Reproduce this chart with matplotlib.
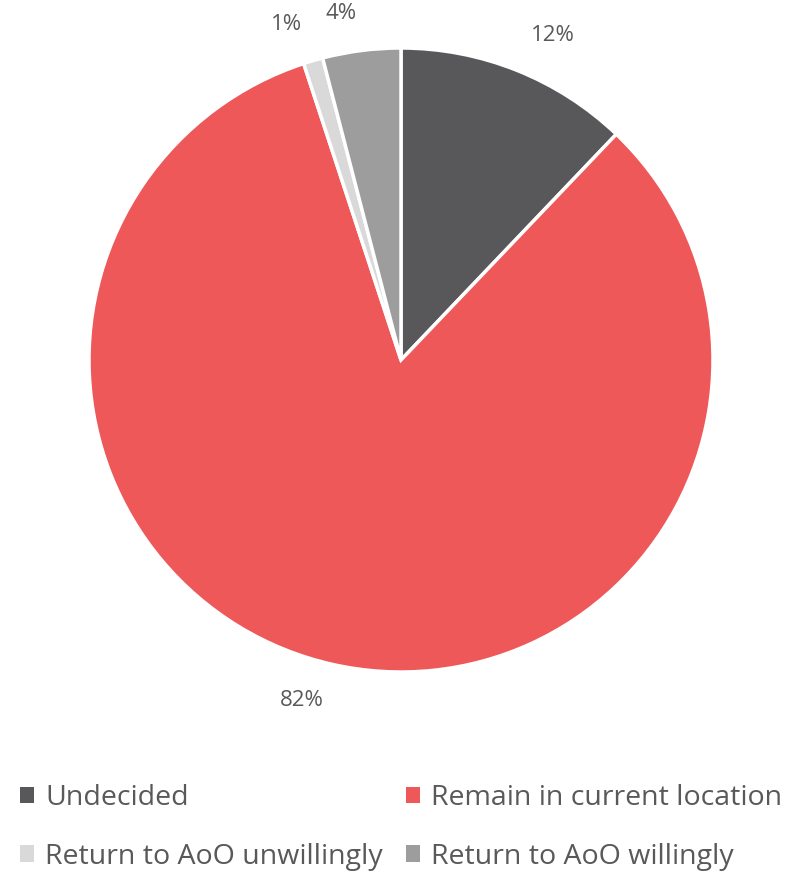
import matplotlib.pyplot as plt
from matplotlib.patches import Patch

plt.rcParams['font.family'] = ['Open Sans', 'DejaVu Sans']

categories = ['Undecided', 'Remain in current location',
              'Return to AoO unwillingly', 'Return to AoO willingly']
shares = [12, 82, 1, 4]
colors = ['#58585a', '#ee5859', '#d9d9d9', '#9d9d9e']
text_color = '#595959'

fig = plt.figure(figsize=(7.92, 8.72), dpi=100)
ax = fig.add_axes([89 / 792, 200 / 872, 624 / 792, 624 / 872])

wedges, texts = ax.pie(shares, colors=colors, startangle=90, counterclock=False,
                       labels=[f'{v}%' for v in shares], labeldistance=1.12,
                       wedgeprops=dict(edgecolor='white', linewidth=2.5),
                       textprops=dict(color=text_color, fontsize=16))
ax.set_xlim(-1, 1)
ax.set_ylim(-1, 1)
ax.set_aspect('equal')

# legend fills row by row in the original
order = [0, 2, 1, 3]
handles = [Patch(facecolor=colors[i], edgecolor='none') for i in order]
labels = [categories[i] for i in order]
fig.legend(handles, labels, ncol=2, loc='lower left', bbox_to_anchor=(0.023, 0.0),
           frameon=False, fontsize=20.5, labelcolor=text_color,
           handlelength=0.5, handleheight=0.5, handletextpad=0.4,
           columnspacing=0.8, labelspacing=1.07, borderaxespad=0.0,
           borderpad=0.05)

fig.savefig('out.png', dpi=100)
